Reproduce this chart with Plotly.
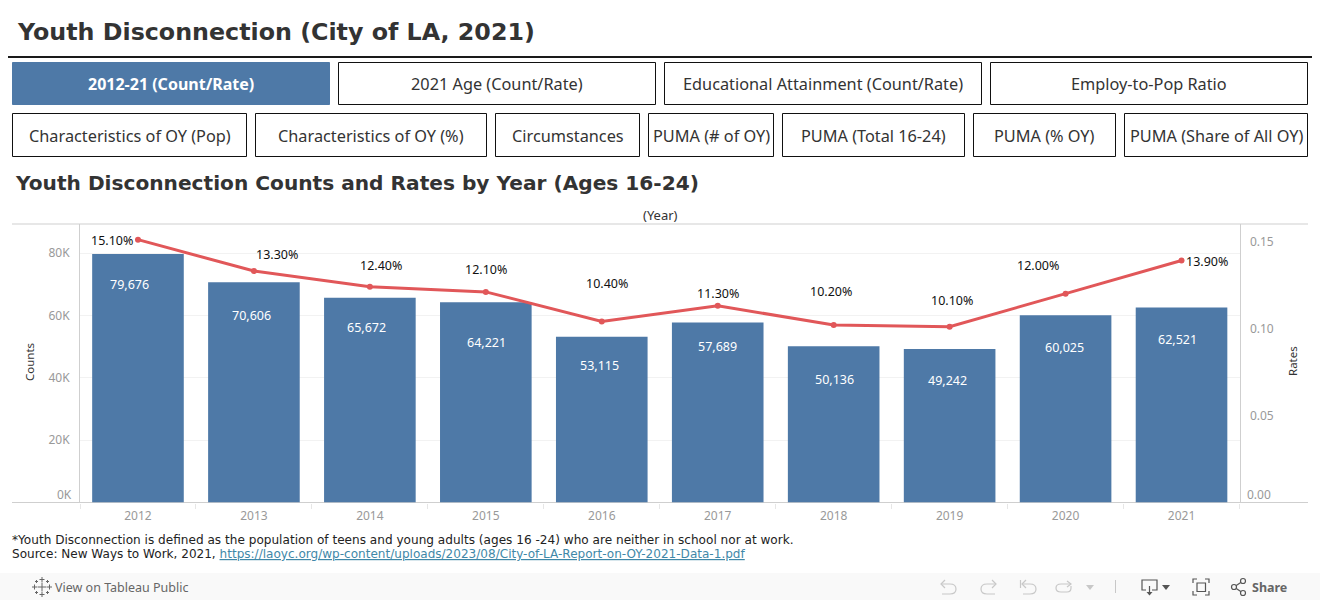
import plotly.graph_objects as go

# ---- data ----
years = ["2012", "2013", "2014", "2015", "2016", "2017", "2018", "2019", "2020", "2021"]
counts = [79676, 70606, 65672, 64221, 53115, 57689, 50136, 49242, 60025, 62521]
rates = [0.151, 0.133, 0.124, 0.121, 0.104, 0.113, 0.102, 0.101, 0.120, 0.139]

count_ticks = [20000, 40000, 60000, 80000]
count_tick_labels = ["20K", "40K", "60K", "80K"]
rate_ticks = [0.05, 0.10, 0.15]
rate_tick_labels = ["0.05", "0.10", "0.15"]

# hand-placed label nudges (px)
count_dx = [-8, -2, -3, 1, -2, 0, 1, -2, -1, -4]
count_dy = [-30, -33, -30, -40, -29, -24, -33, -32, -32, -32]
rate_dx = [-26, 23, 11, 0, 5, 0, -3, 2, -28, 25]
rate_dy = [-1, 17, 21, 22, 38, 12, 33, 26, 28, -1]

row1 = [("2012-21 (Count/Rate)", 12, 330), ("2021 Age (Count/Rate)", 338, 656),
        ("Educational Attainment (Count/Rate)", 664, 982), ("Employ-to-Pop Ratio", 990, 1308)]
row2 = [("Characteristics of OY (Pop)", 12, 247), ("Characteristics of OY (%)", 255, 487),
        ("Circumstances", 495, 640), ("PUMA (# of OY)", 648, 774), ("PUMA (Total 16-24)", 782, 965),
        ("PUMA (% OY)", 973, 1116), ("PUMA (Share of All OY)", 1124, 1308)]

W, H = 1320, 600
BLUE = "#4e79a7"
RED = "#e15759"
DARK = "#333333"
GRID = "#f2f2f2"
AXIS = "#cfcfcf"
TICK = "#999999"
BODY_FONT = "Noto Sans"
HEAD_FONT = "DejaVu Sans"

px = lambda v: v / W
py = lambda v: 1 - v / H


def rect(x0, y0, x1, y1, **kw):
    return dict(type="rect", xref="paper", yref="paper", x0=px(x0), x1=px(x1), y0=py(y0), y1=py(y1), layer="below", **kw)


def hline(x0, x1, y, color, width=1):
    return dict(type="line", xref="paper", yref="paper", x0=px(x0), x1=px(x1), y0=py(y), y1=py(y),
                line=dict(color=color, width=width), layer="below")


def seg(x0, y0, x1, y1, color, width=1.2):
    return dict(type="line", xref="paper", yref="paper", x0=px(x0), x1=px(x1), y0=py(y0), y1=py(y1),
                line=dict(color=color, width=width))


def path(cmds, color, width=1.2, fill=None):
    parts = []
    for c in cmds:
        if isinstance(c, str):
            parts.append(c)
        else:
            parts.append(f"{px(c[0])} {py(c[1])}")
    d = dict(type="path", xref="paper", yref="paper", path=" ".join(parts),
             line=dict(color=color, width=width), fillcolor=fill or "rgba(0,0,0,0)")
    if fill and width == 0:
        d["line"] = dict(width=0)
    return d


def text(x, y, s, size=12, color=DARK, family=BODY_FONT, anchor="center", angle=0):
    return dict(xref="paper", yref="paper", x=px(x), y=py(y), text=s, showarrow=False, xanchor=anchor, yanchor="middle",
                textangle=angle, font=dict(size=size, color=color, family=family), align="left",
                borderpad=0, borderwidth=0)


fig = go.Figure()
fig.add_trace(go.Bar(x=years, y=counts, marker=dict(color=BLUE, line_width=0), yaxis="y", hoverinfo="skip"))
fig.add_trace(go.Scatter(x=years, y=rates, yaxis="y2", mode="lines+markers",
                         line=dict(color=RED, width=3), marker=dict(color=RED, size=6), hoverinfo="skip"))

shapes, ann = [], []

# header
ann.append(text(17, 32, "<b>Youth Disconnection (City of LA, 2021)</b>", 23.75, DARK, HEAD_FONT, "left"))
shapes.append(hline(8, 1312, 57, "#1a1a1a", 2))

# buttons
for row, (top, bottom, nudge) in ((row1, (62, 105, 0)), (row2, (113, 157, 1))):
    for label, x0, x1 in row:
        active = label == row1[0][0]
        shapes.append(rect(x0 + .5, top + .5, x1 - .5, bottom - .5,
                           fillcolor=BLUE if active else "white",
                           line=dict(color=BLUE if active else "#111111", width=1)))
        ann.append(text((x0 + x1) / 2, (top + bottom) / 2 + nudge, f"<b>{label}</b>" if active else label,
                        16 if active else 16.3, "white" if active else DARK))

ann.append(text(15, 183, "<b>Youth Disconnection Counts and Rates by Year (Ages 16-24)</b>", 20.15, DARK, HEAD_FONT, "left"))
ann.append(text(660, 215, "(Year)", 13, DARK))

# frame lines
shapes.append(hline(12, 1308, 224, AXIS))
shapes.append(hline(12, 1308, 502.5, AXIS))

# axis titles and shifted zero labels
ann.append(text(29, 362, "Counts", 11.5, DARK, angle=-90))
ann.append(text(1292, 361, "Rates", 11.5, DARK, angle=-90))
ann.append(text(72, 494, "0K", 12, TICK, anchor="right"))
ann.append(text(1247, 494, "0.00", 12, TICK, anchor="left"))

# data labels (category axis annotations are positioned by category index)
for i, (v, dx, dy) in enumerate(zip(counts, count_dx, count_dy)):
    ann.append(dict(xref="x", yref="y", x=i, y=v, text=f"{v:,}", showarrow=False, xshift=dx, yshift=dy,
                    font=dict(size=12.5, color="white", family=BODY_FONT)))
for i, (v, dx, dy) in enumerate(zip(rates, rate_dx, rate_dy)):
    ann.append(dict(xref="x", yref="y2", x=i, y=v, text=f"{v * 100:.2f}%", showarrow=False, xshift=dx, yshift=dy,
                    font=dict(size=12.5, color="#111111", family=BODY_FONT)))

# footnote
ann.append(text(12, 540, "*Youth Disconnection is defined as the population of teens and young adults (ages 16 -24) who are neither in school nor at work.",
                12.1, "#222222", HEAD_FONT, "left"))
url = "https://laoyc.org/wp-content/uploads/2023/08/City-of-LA-Report-on-OY-2021-Data-1.pdf"
ann.append(text(12, 554, f'Source: New Ways to Work, 2021, <a href="{url}" style="color:#3f88a8"><u>{url}</u></a>',
                12.05, "#222222", HEAD_FONT, "left"))

# toolbar
shapes.append(rect(0, 573, 1320, 600, fillcolor="#f9f9f9", line_width=0))
ann.append(text(55, 587, "View on Tableau Public", 12.5, "#666666", anchor="left"))
ann.append(text(1252, 587, "<b>Share</b>", 12.5, "#666666", anchor="left"))
LOGO = "#666666"
for cx, cy, r in ((42, 587, 4.5), (42, 579.5, 2.5), (42, 594.5, 2.5), (34.5, 587, 2.5), (49.5, 587, 2.5),
                  (36.5, 581.5, 1.5), (47.5, 581.5, 1.5), (36.5, 592.5, 1.5), (47.5, 592.5, 1.5)):
    shapes.append(seg(cx - r, cy, cx + r, cy, LOGO, 1))
    shapes.append(seg(cx, cy - r, cx, cy + r, LOGO, 1))

ICON = "#c8c8c8"
# undo
shapes.append(path(["M", (941, 584), "L", (950, 584), "Q", (956, 584), (956, 589), "Q", (956, 594), (950, 594), "L", (942, 594)], ICON))
shapes.append(path(["M", (945, 580), "L", (941, 584), "L", (945, 588)], ICON))
# redo
shapes.append(path(["M", (996, 584), "L", (987, 584), "Q", (981, 584), (981, 589), "Q", (981, 594), (987, 594), "L", (995, 594)], ICON))
shapes.append(path(["M", (992, 580), "L", (996, 584), "L", (992, 588)], ICON))
# revert
shapes.append(path(["M", (1022, 584), "L", (1030, 584), "Q", (1036, 584), (1036, 589), "Q", (1036, 594), (1030, 594), "L", (1023, 594)], ICON))
shapes.append(path(["M", (1026, 580), "L", (1022, 584), "L", (1026, 588)], ICON))
shapes.append(seg(1020.5, 580, 1020.5, 588, ICON))
# refresh
shapes.append(path(["M", (1071, 584), "L", (1061, 584), "Q", (1056, 584), (1056, 588), "Q", (1056, 592), (1061, 592),
                    "L", (1067, 592), "Q", (1071, 592), (1071, 588), "L", (1071, 586)], ICON))
shapes.append(path(["M", (1067, 581), "L", (1071, 584), "L", (1067, 587)], ICON))
shapes.append(path(["M", (1086, 585), "L", (1094, 585), "L", (1090, 590), "Z"], ICON, 0, ICON))
shapes.append(seg(1115.5, 580, 1115.5, 593, ICON, 1))

DKI = "#555555"
# download
shapes.append(path(["M", (1146, 590), "L", (1142, 590), "L", (1142, 580), "L", (1157, 580), "L", (1157, 590), "L", (1152, 590)], DKI))
shapes.append(seg(1149.5, 586, 1149.5, 593, DKI))
shapes.append(path(["M", (1146.5, 592), "L", (1152.5, 592), "L", (1149.5, 595.5), "Z"], DKI, 0, DKI))
shapes.append(path(["M", (1162, 585), "L", (1170, 585), "L", (1166, 590), "Z"], DKI, 0, DKI))
# fullscreen
for sx, sy, hx, vy in ((1193, 579, 1, 1), (1209, 579, -1, 1), (1193, 595, 1, -1), (1209, 595, -1, -1)):
    shapes.append(path(["M", (sx + 4 * hx, sy), "L", (sx, sy), "L", (sx, sy + 4 * vy)], DKI))
shapes.append(dict(type="rect", xref="paper", yref="paper", x0=px(1197), x1=px(1205.5), y0=py(583), y1=py(591.5),
                   line=dict(color=DKI, width=1.2), fillcolor="rgba(0,0,0,0)"))
# share
shapes.append(seg(1234, 587, 1243, 581, DKI))
shapes.append(seg(1234, 587, 1243, 593, DKI))
for cx, cy in ((1234, 587), (1243, 581), (1243, 593)):
    shapes.append(dict(type="circle", xref="paper", yref="paper", x0=px(cx - 2.5), x1=px(cx + 2.5), y0=py(cy - 2.5), y1=py(cy + 2.5),
                       line=dict(color=DKI, width=1.2), fillcolor="#f9f9f9"))

fig.update_layout(
    width=W, height=H, margin=dict(l=0, r=0, t=0, b=0, pad=0),
    paper_bgcolor="white", plot_bgcolor="white", showlegend=False, bargap=0.21,
    font=dict(family=BODY_FONT, color=TICK, size=12),
    xaxis=dict(domain=[px(80), px(1239.5)], type="category", categoryorder="array", categoryarray=years,
               range=[-0.5, 9.5], tickmode="linear", tick0=0, dtick=1, tickson="boundaries", ticks="outside",
               ticklen=5, tickcolor="#e6e6e6", tickwidth=1, showgrid=False, zeroline=False, showline=False,
               ticklabelstandoff=4,
               tickfont=dict(size=12, color=TICK, family=BODY_FONT), fixedrange=True),
    yaxis=dict(domain=[py(502.5), py(224)], range=[0, 89300], tickmode="array", tickvals=count_ticks,
               ticktext=count_tick_labels, showgrid=True, gridcolor=GRID, gridwidth=1, zeroline=False,
               showline=True, linecolor=AXIS, linewidth=1, ticks="", ticklabelstandoff=7,
               tickfont=dict(size=12, color=TICK, family=BODY_FONT), fixedrange=True),
    yaxis2=dict(domain=[py(502.5), py(224)], range=[0, 0.16], overlaying="y", side="right", anchor="x",
                tickmode="array", tickvals=rate_ticks, ticktext=rate_tick_labels, showgrid=False, zeroline=False,
                showline=True, linecolor=AXIS, linewidth=1, ticks="", ticklabelstandoff=7,
                tickfont=dict(size=12, color=TICK, family=BODY_FONT), fixedrange=True),
    shapes=shapes, annotations=ann,
)

fig.write_html("out.html", config=dict(displayModeBar=False),
               post_script="document.body.style.margin='0';")
